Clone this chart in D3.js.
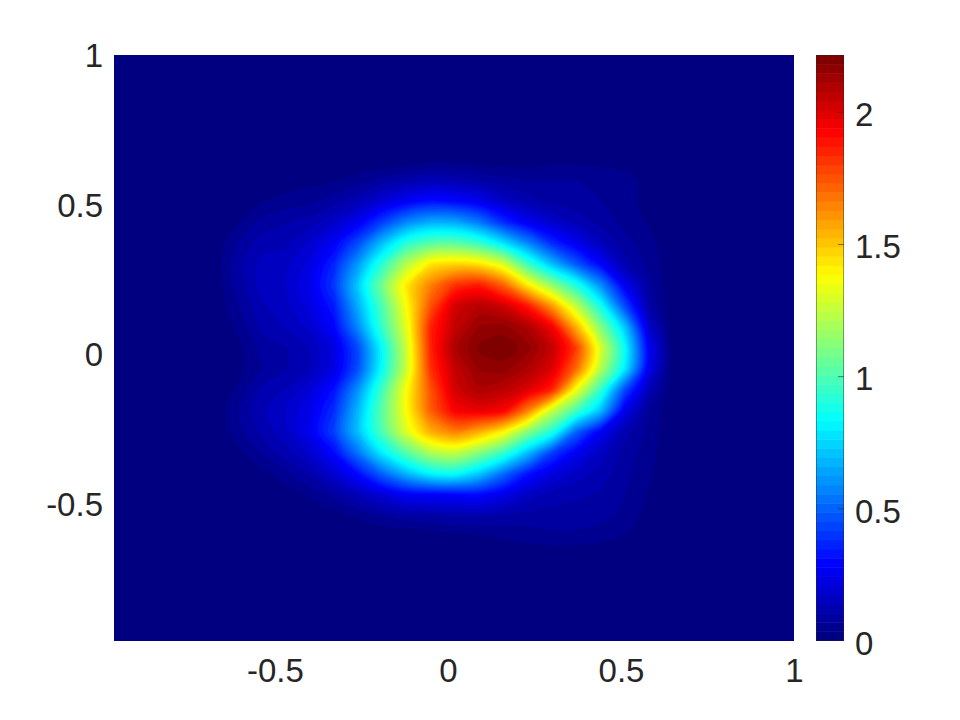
<!DOCTYPE html>
<html><head><meta charset="utf-8">
<script src="https://cdn.jsdelivr.net/npm/d3@7"></script>
<style>html,body{margin:0;background:#fff}svg{display:block}text{font-family:"Liberation Sans",Arial,sans-serif;fill:#262626}</style>
</head><body><svg id="c" width="960" height="720"></svg>
<script>
const xTicks=[-0.5,0,0.5,1];
const yTicks=[-0.5,0,0.5,1];
const barTicks=[0,0.5,1,1.5,2];
const xDomain=[-0.965,1];
const yDomain=[-0.96,1];
const barMax=2.215;
const levelCount=64;
const gridX0=-0.96, gridY0=1, gridStep=0.07, gridN=29;
const firstCol=5, firstRow=5;
// values, rows top to bottom, columns left to right
const fieldRows=[
[0,0,0,0,0,0,0,0,.02,.02,.01,.01,.01,.02,.02,.02,.01,0],
[0,0,.01,.02,.03,.05,.08,.11,.13,.12,.10,.08,.07,.07,.07,.06,.05,.02],
[0,.03,.05,.06,.09,.13,.20,.27,.32,.30,.25,.17,.12,.09,.08,.07,.05,.02],
[.03,.08,.10,.12,.17,.26,.42,.58,.66,.65,.55,.38,.26,.18,.13,.09,.06,.03],
[.07,.12,.13,.18,.27,.45,.70,.92,1.02,1.03,.95,.78,.58,.38,.25,.15,.08,.05],
[.09,.15,.16,.22,.36,.62,.93,1.22,1.43,1.47,1.44,1.30,.97,.70,.48,.29,.12,.06],
[.08,.15,.17,.24,.40,.72,1.08,1.42,1.65,1.82,1.87,1.72,1.42,1.15,.90,.60,.26,.08],
[.06,.13,.16,.22,.34,.66,1.00,1.37,1.75,2.02,2.08,2.03,1.88,1.60,1.25,.88,.45,.10],
[.04,.11,.14,.18,.29,.58,.95,1.32,1.85,2.05,2.15,2.16,2.10,1.95,1.55,1.12,.72,.18],
[.02,.08,.10,.14,.22,.45,.84,1.27,1.85,2.10,2.19,2.21,2.16,2.05,1.80,1.30,.85,.27],
[.02,.07,.10,.14,.23,.46,.85,1.27,1.82,2.05,2.15,2.16,2.10,2.00,1.70,1.22,.80,.24],
[.04,.11,.14,.20,.32,.60,.97,1.37,1.75,2.02,2.10,2.07,2.00,1.85,1.35,.95,.45,.13],
[.06,.13,.17,.24,.38,.68,1.03,1.37,1.72,1.93,1.97,1.93,1.65,1.25,.98,.70,.24,.07],
[.05,.11,.16,.25,.42,.70,1.00,1.30,1.55,1.65,1.55,1.39,1.12,.90,.50,.27,.12,.06],
[.02,.07,.12,.18,.30,.54,.80,1.02,1.20,1.25,1.12,.95,.70,.42,.26,.16,.09,.05],
[0,.02,.06,.11,.19,.31,.50,.68,.82,.85,.72,.52,.33,.22,.16,.12,.08,.04],
[0,0,.01,.04,.08,.14,.20,.27,.28,.29,.30,.24,.16,.12,.11,.10,.07,.03],
[0,0,0,.01,.02,.04,.07,.09,.10,.11,.11,.10,.09,.09,.09,.08,.06,.02],
[0,0,0,0,0,0,0,0,.01,.02,.03,.04,.05,.06,.06,.05,.03,.01]
];
const plot={l:114,r:794,t:55,b:641}, bar={l:816,r:844};
const x=d3.scaleLinear().domain(xDomain).range([plot.l,plot.r]);
const y=d3.scaleLinear().domain(yDomain).range([plot.b,plot.t]);
const yBar=d3.scaleLinear().domain([0,barMax]).range([plot.b-0.5,plot.t]);
const jet=t=>{
  const v=c=>Math.round(255*Math.max(0,Math.min(1,c)));
  return `rgb(${v(Math.min(4*t-1.5,-4*t+4.5))},${v(Math.min(4*t-0.5,-4*t+3.5))},${v(Math.min(4*t+0.5,-4*t+2.5))})`;
};
const levelColor=d3.scaleSequential(jet).domain([0,levelCount-1]);
const values=new Array(gridN*gridN).fill(0);
fieldRows.forEach((row,j)=>row.forEach((v,i)=>{values[(j+firstRow)*gridN+i+firstCol]=v;}));
const svg=d3.select("#c");
svg.append("defs").append("clipPath").attr("id","pc").append("rect")
  .attr("x",plot.l).attr("y",plot.t).attr("width",plot.r-plot.l).attr("height",plot.b-plot.t);
const thresholds=d3.range(levelCount).map(i=>i*barMax/levelCount);
const contours=d3.contours().size([gridN,gridN]).smooth(true).thresholds(thresholds)(values);
const ringLine=d3.line()
  .x(p=>x(gridX0+gridStep*(p[0]-0.5)))
  .y(p=>y(gridY0-gridStep*(p[1]-0.5)))
  .curve(d3.curveCatmullRomClosed.alpha(0.5));
const contourPath=c=>c.coordinates.flat().map(r=>ringLine(r.slice(0,-1))).join("");
svg.append("rect").attr("x",plot.l).attr("y",plot.t).attr("width",plot.r-plot.l).attr("height",plot.b-plot.t).attr("fill",levelColor(0));
svg.append("g").attr("clip-path","url(#pc)").selectAll("path").data(contours.slice(1)).join("path")
  .attr("d",contourPath).attr("fill",(d,i)=>levelColor(i+1)).attr("stroke",(d,i)=>levelColor(i+1)).attr("stroke-width",0.4);
svg.append("g").selectAll("rect").data(d3.range(levelCount)).join("rect")
  .attr("x",bar.l).attr("width",bar.r-bar.l)
  .attr("y",i=>yBar((i+1)*barMax/levelCount)).attr("height",i=>yBar(i*barMax/levelCount)-yBar((i+1)*barMax/levelCount)+0.5)
  .attr("fill",i=>levelColor(i));
svg.append("rect").attr("x",bar.l+.5).attr("y",plot.t+.5).attr("width",bar.r-bar.l-1).attr("height",plot.b-plot.t-1)
  .attr("fill","none").attr("stroke","#262626").attr("stroke-width",0.6).attr("stroke-opacity",0.7);
const fs=33, fmt=d=>String(d);
const gx=svg.append("g").attr("transform",`translate(0,${plot.b})`)
  .call(d3.axisBottom(x).tickValues(xTicks).tickFormat(fmt).tickSize(0).tickPadding(18));
const gy=svg.append("g").attr("transform",`translate(${plot.l},1)`)
  .call(d3.axisLeft(y).tickValues(yTicks).tickFormat(fmt).tickSize(0).tickPadding(11));
const gb=svg.append("g").attr("transform",`translate(${bar.r},0)`)
  .call(d3.axisRight(yBar).tickValues(barTicks).tickFormat(fmt).tickSize(-6).tickPadding(11));
[gx,gy,gb].forEach(g=>{g.select(".domain").remove();g.attr("font-family",null);g.selectAll("text").attr("font-size",fs).style("fill","#262626");});
gb.selectAll("text").attr("dy","0.37em").attr("y",1.5);
gb.selectAll("line").attr("stroke","#262626").attr("stroke-width",0.7).attr("stroke-opacity",d=>d===0?0:0.8);
</script></body></html>
